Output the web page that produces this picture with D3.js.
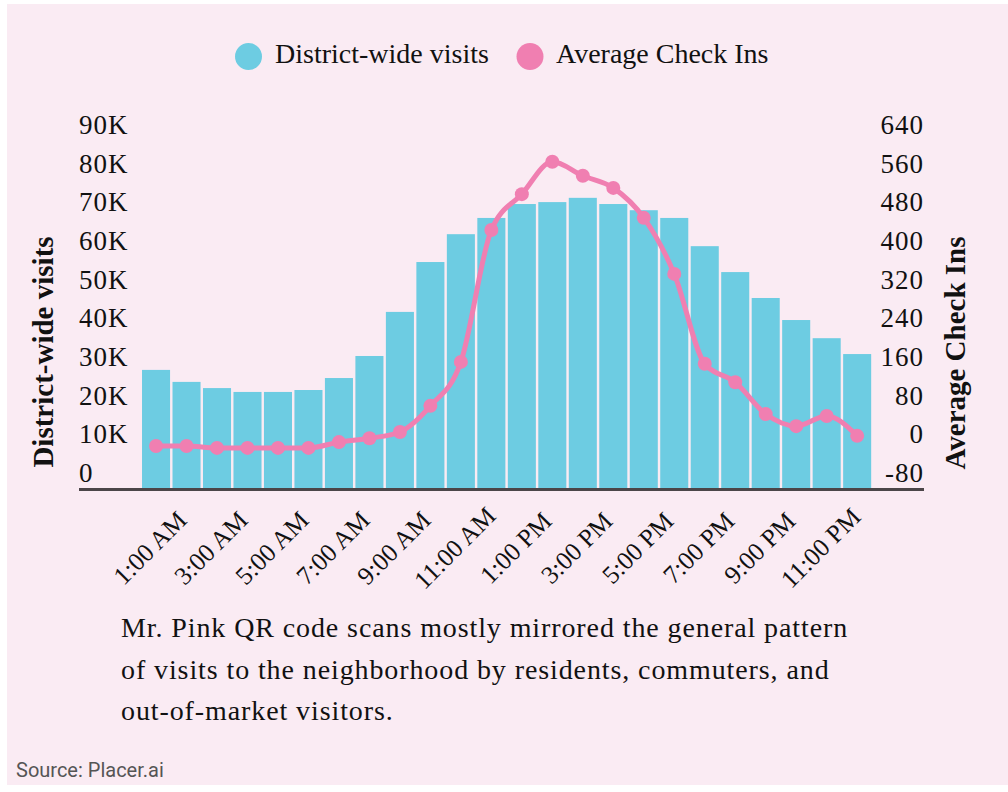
<html>
<head>
    <meta charset="utf-8">
    <title>District-wide visits vs Average Check Ins</title>
    <script src="https://cdn.jsdelivr.net/npm/d3@7"></script>
</head>
<style>
    body {
        margin: 0;
        background: #ffffff;
    }
    .tick-label {
        font-family: "Liberation Serif", serif;
        font-size: 27px;
        letter-spacing: 1px;
        fill: #111;
    }
    .x-label {
        font-family: "Liberation Serif", serif;
        font-size: 25.5px;
        fill: #111;
    }
    .axis-title {
        font-family: "Liberation Serif", serif;
        font-size: 29px;
        font-weight: bold;
        fill: #111;
    }
    .legend-text {
        font-family: "Liberation Serif", serif;
        font-size: 28px;
        fill: #111;
    }
    .caption {
        font-family: "Liberation Serif", serif;
        font-size: 28px;
        letter-spacing: 0.9px;
        fill: #111;
    }
    .source {
        font-family: Roboto, sans-serif;
        font-size: 20px;
        fill: #555;
    }
</style>
<body>
<script>
    // hours of the day, one bar each
    var hours = ["1:00 AM", "2:00 AM", "3:00 AM", "4:00 AM", "5:00 AM", "6:00 AM",
        "7:00 AM", "8:00 AM", "9:00 AM", "10:00 AM", "11:00 AM", "12:00 PM",
        "1:00 PM", "2:00 PM", "3:00 PM", "4:00 PM", "5:00 PM", "6:00 PM",
        "7:00 PM", "8:00 PM", "9:00 PM", "10:00 PM", "11:00 PM", "12:00 AM"];

    var visits = [30800, 27700, 26100, 25100, 25100, 25600, 28700, 34400, 45800, 58700, 65900, 70100,
        73700, 74200, 75300, 73700, 72100, 70100, 62800, 56100, 49400, 43700, 39000, 34900];

    var checkIns = [9, 9, 5, 5, 5, 5, 17, 25, 38, 92, 183, 456,
        530, 597, 568, 543, 481, 365, 179, 141, 75, 50, 71, 30];

    var leftTicks = [0, 10000, 20000, 30000, 40000, 50000, 60000, 70000, 80000, 90000];
    var rightTicks = [-80, 0, 80, 160, 240, 320, 400, 480, 560, 640];

    var seriesNames = ["District-wide visits", "Average Check Ins"];
    var captionLines = [
        "Mr. Pink QR code scans mostly mirrored the general pattern",
        "of visits to the neighborhood by residents, commuters, and",
        "out-of-market visitors."
    ];

    var width = 1008;
    var height = 792;
    var blue = "#6dcce2";
    var pink = "#f07fb1";

    var svg = d3.select("body").append("svg")
            .attr("width", width)
            .attr("height", height);

    // pink card
    svg.append("rect")
            .attr("x", 7)
            .attr("y", 4)
            .attr("width", width - 7)
            .attr("height", 781)
            .attr("fill", "#faebf3");

    var baseY = 489, topY = 141;

    var x = d3.scaleBand()
            .domain(hours)
            .range([140.8, 872.4])
            .paddingInner(0.08)
            .paddingOuter(0.04);

    var yLeft = d3.scaleLinear().domain([0, 90000]).range([baseY, topY]);
    var yRight = d3.scaleLinear().domain([-80, 640]).range([baseY, topY]);

    // bars
    svg.append("g").selectAll("rect")
            .data(visits)
            .enter()
            .append("rect")
            .attr("x", function (d, i) { return x(hours[i]); })
            .attr("y", function (d) { return yLeft(d); })
            .attr("width", x.bandwidth())
            .attr("height", function (d) { return baseY - yLeft(d); })
            .attr("fill", blue);

    // baseline
    svg.append("line")
            .attr("x1", 79).attr("x2", 924)
            .attr("y1", baseY + 0.5).attr("y2", baseY + 0.5)
            .attr("stroke", "#4b4548")
            .attr("stroke-width", 3);

    // left tick labels, sitting above their value
    svg.append("g").selectAll("text")
            .data(leftTicks)
            .enter()
            .append("text")
            .attr("class", "tick-label")
            .attr("x", 79)
            .attr("y", function (d) { return yLeft(d) - 16; })
            .attr("dominant-baseline", "central")
            .text(function (d) { return d === 0 ? "0" : (d / 1000) + "K"; });

    // right tick labels
    svg.append("g").selectAll("text")
            .data(rightTicks)
            .enter()
            .append("text")
            .attr("class", "tick-label")
            .attr("x", 924)
            .attr("y", function (d) { return yRight(d) - 16; })
            .attr("text-anchor", "end")
            .attr("dominant-baseline", "central")
            .text(function (d) { return d; });

    // x labels, every other hour
    svg.append("g").selectAll("text")
            .data(hours.filter(function (d, i) { return i % 2 === 0; }))
            .enter()
            .append("text")
            .attr("class", "x-label")
            .attr("text-anchor", "middle")
            .attr("dominant-baseline", "central")
            .attr("transform", function (d) {
                var cx = x(d) + x.bandwidth() / 2 - 6;
                return "translate(" + cx + ",548) rotate(-45)";
            })
            .text(function (d) { return d; });

    // check-ins line
    var line = d3.line()
            .x(function (d, i) { return x(hours[i]) + x.bandwidth() / 2; })
            .y(function (d) { return yRight(d); })
            .curve(d3.curveMonotoneX);

    svg.append("path")
            .datum(checkIns)
            .attr("d", line)
            .attr("fill", "none")
            .attr("stroke", pink)
            .attr("stroke-width", 5);

    svg.append("g").selectAll("circle")
            .data(checkIns)
            .enter()
            .append("circle")
            .attr("cx", function (d, i) { return x(hours[i]) + x.bandwidth() / 2; })
            .attr("cy", function (d) { return yRight(d); })
            .attr("r", 7)
            .attr("fill", pink);

    // axis titles
    svg.append("text")
            .attr("class", "axis-title")
            .attr("text-anchor", "middle")
            .attr("transform", "translate(53,352) rotate(-90)")
            .text(seriesNames[0]);

    svg.append("text")
            .attr("class", "axis-title")
            .attr("text-anchor", "middle")
            .attr("transform", "translate(965,353) rotate(-90)")
            .text(seriesNames[1]);

    // legend
    var legend = [
        {name: seriesNames[0], color: blue, cx: 248.5, tx: 275},
        {name: seriesNames[1], color: pink, cx: 530, tx: 556}
    ];
    var lg = svg.append("g").selectAll("g")
            .data(legend)
            .enter()
            .append("g");
    lg.append("circle")
            .attr("cx", function (d) { return d.cx; })
            .attr("cy", 56.5)
            .attr("r", 13.5)
            .attr("fill", function (d) { return d.color; });
    lg.append("text")
            .attr("class", "legend-text")
            .attr("x", function (d) { return d.tx; })
            .attr("y", 63)
            .text(function (d) { return d.name; });

    // caption
    svg.append("g").selectAll("text")
            .data(captionLines)
            .enter()
            .append("text")
            .attr("class", "caption")
            .attr("x", 121)
            .attr("y", function (d, i) { return 637 + i * 41.5; })
            .text(function (d) { return d; });

    svg.append("text")
            .attr("class", "source")
            .attr("x", 16)
            .attr("y", 777)
            .text("Source: Placer.ai");
</script>
</body>
</html>
